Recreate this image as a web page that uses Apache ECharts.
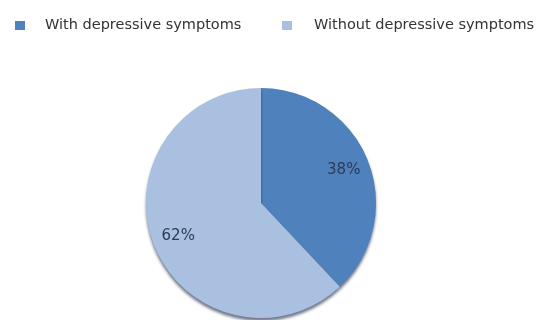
<!DOCTYPE html>
<html>
<head>
<meta charset="utf-8">
<script src="https://cdn.jsdelivr.net/npm/echarts@6/dist/echarts.min.js"></script>
<style>
  html, body { margin: 0; padding: 0; background: #fff; }
  #chart { width: 537px; height: 320px; }
</style>
</head>
<body>
<div id="chart"></div>
<script>
const categories = ['With depressive symptoms', 'Without depressive symptoms'];
const shares = [38, 62];
const colors = ['#4f81bd', '#a9c0e1'];

const chart = echarts.init(document.getElementById('chart'));

const pieData = categories.map((name, i) => ({
  name,
  value: shares[i],
  itemStyle: { color: colors[i] },
}));

const legendBase = {
  top: 18,
  padding: 0,
  orient: 'horizontal',
  icon: 'rect',
  itemWidth: 10,
  itemHeight: 9,
  textStyle: {
    fontFamily: 'DejaVu Sans',
    fontSize: 14.5,
    color: '#333',
    padding: [0, 0, 0, 15],
  },
};

chart.setOption({
  backgroundColor: '#fff',
  animation: false,
  legend: [
    { ...legendBase, left: 15, data: [categories[0]] },
    { ...legendBase, left: 282, data: [categories[1]], textStyle: { ...legendBase.textStyle, padding: [0, 0, 0, 17] } },
  ],
  series: [
    {
      type: 'pie',
      center: [261, 203],
      radius: 115,
      startAngle: 90,
      clockwise: true,
      silent: true,
      label: { show: false },
      labelLine: { show: false },
      itemStyle: {
        borderWidth: 0,
        shadowBlur: 3,
        shadowOffsetY: 3,
        shadowColor: 'rgba(20, 30, 60, 0.6)',
      },
      data: pieData,
    },
    {
      // transparent ring, only used to place the percentage labels
      type: 'pie',
      center: [261, 203],
      radius: [57, 115],
      startAngle: 90,
      clockwise: true,
      silent: true,
      legendHoverLink: false,
      itemStyle: { color: 'transparent', borderWidth: 0 },
      label: {
        show: true,
        position: 'inside',
        formatter: '{c}%',
        fontFamily: 'DejaVu Sans',
        fontSize: 15,
        color: '#2c3b58',
      },
      labelLine: { show: false },
      data: categories.map((name, i) => ({ name: name + ' ', value: shares[i] })),
    },
  ],
});
</script>
</body>
</html>
